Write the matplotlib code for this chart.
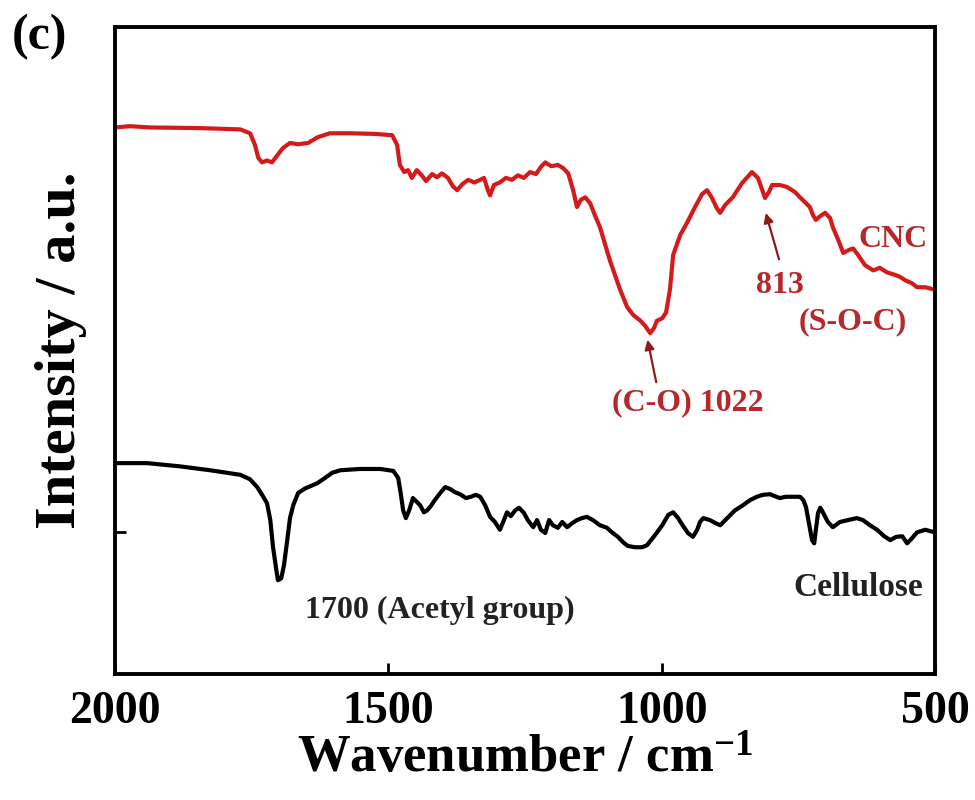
import matplotlib

matplotlib.use("Agg")
import matplotlib.pyplot as plt
import numpy as np

plt.rcParams["font.family"] = ["Liberation Serif", "DejaVu Serif"]
plt.rcParams["font.weight"] = "bold"
plt.rcParams["mathtext.fontset"] = "custom"
plt.rcParams["mathtext.rm"] = "Liberation Serif:bold"
plt.rcParams["mathtext.default"] = "rm"

# CNC spectrum (red), wavenumber in cm-1 and intensity in a.u.
cnc_wn = [2000, 1973, 1936, 1845, 1771, 1753, 1744, 1738, 1731, 1722, 1713, 1704, 1693, 1680,
          1665, 1647, 1629, 1607, 1570, 1524, 1493, 1484, 1479, 1471, 1464, 1457, 1448, 1438,
          1431, 1420, 1411, 1402, 1391, 1382, 1374, 1365, 1354, 1343, 1332, 1325, 1318, 1314,
          1307, 1296, 1285, 1274, 1263, 1252, 1241, 1230, 1221, 1213, 1202, 1190, 1180, 1171,
          1162, 1155, 1148, 1140, 1131, 1122, 1113, 1095, 1076, 1063, 1052, 1040, 1030, 1021,
          1014, 1009, 999, 992, 985, 979, 966, 954, 939, 926, 917, 908, 899, 893, 884, 870,
          853, 835, 824, 816, 811, 804, 798, 784, 771, 756, 747, 736, 729, 723, 718, 710, 701,
          692, 687, 677, 668, 659, 650, 641, 628, 613, 601, 588, 573, 564, 555, 542, 533, 518, 500]
cnc_int = [84.5, 84.7, 84.5, 84.4, 84.2, 83.6, 81.8, 79.8, 79.1, 79.4, 79.1, 80.1, 81.3, 82.1,
           81.9, 82.1, 83.0, 83.6, 83.6, 83.5, 83.3, 81.8, 78.7, 77.6, 77.9, 76.7, 77.9, 77.0,
           76.2, 77.3, 76.8, 77.4, 76.7, 75.4, 74.8, 75.7, 76.4, 76.0, 76.4, 76.7, 74.8, 74.0,
           75.6, 76.0, 76.7, 76.4, 77.1, 76.7, 77.6, 77.3, 78.4, 79.1, 78.5, 78.7, 78.2, 77.4,
           74.8, 72.2, 73.3, 73.7, 72.8, 70.9, 69.1, 64.0, 59.4, 56.7, 55.5, 54.7, 53.8, 52.7,
           53.5, 54.6, 55.0, 55.9, 59.4, 64.8, 67.9, 69.7, 72.2, 74.2, 74.8, 73.6, 72.0, 71.3,
           72.5, 73.7, 75.9, 77.6, 76.7, 74.8, 73.6, 74.5, 75.6, 75.6, 75.3, 74.5, 73.7, 72.8,
           72.2, 70.9, 70.2, 70.8, 71.3, 70.5, 69.1, 67.1, 65.1, 65.5, 65.8, 64.8, 63.2, 62.4,
           62.8, 62.1, 61.7, 61.4, 60.9, 60.4, 59.8, 59.8, 59.4]

# Cellulose spectrum (black)
cel_wn = [2000, 1941, 1881, 1826, 1771, 1753, 1740, 1731, 1722, 1716, 1711, 1705, 1702, 1696,
          1691, 1685, 1680, 1674, 1665, 1652, 1630, 1616, 1603, 1588, 1552, 1515, 1491, 1482,
          1477, 1473, 1468, 1462, 1455, 1448, 1442, 1435, 1429, 1422, 1415, 1405, 1396, 1387,
          1378, 1369, 1358, 1349, 1340, 1332, 1323, 1314, 1305, 1296, 1290, 1283, 1276, 1268,
          1261, 1252, 1245, 1235, 1228, 1221, 1213, 1206, 1199, 1190, 1182, 1173, 1164, 1155,
          1146, 1137, 1126, 1113, 1100, 1091, 1080, 1071, 1062, 1049, 1036, 1027, 1012, 999,
          988, 979, 970, 961, 952, 943, 935, 930, 924, 912, 901, 893, 880, 866, 853, 838, 826,
          815, 802, 793, 784, 773, 760, 747, 741, 736, 730, 725, 721, 718, 714, 710, 707, 701,
          696, 687, 674, 659, 643, 632, 619, 606, 593, 582, 571, 560, 551, 542, 533, 518, 500]
cel_int = [32.6, 32.6, 32.1, 31.5, 30.8, 30.1, 28.9, 27.7, 26.4, 23.8, 19.6, 16.1, 14.5, 14.8,
           16.8, 20.7, 24.1, 26.1, 28.0, 28.7, 29.5, 30.3, 31.1, 31.5, 31.7, 31.7, 31.4, 30.3,
           27.7, 25.3, 24.1, 25.3, 27.2, 26.6, 26.1, 25.0, 25.3, 26.0, 26.9, 28.0, 28.9, 28.6,
           28.1, 27.8, 27.2, 27.4, 27.7, 27.4, 26.1, 24.3, 23.5, 22.3, 23.5, 25.0, 24.4, 25.3,
           25.7, 24.9, 23.8, 22.7, 23.8, 22.3, 21.8, 23.8, 23.0, 22.6, 23.5, 22.7, 23.3, 23.8,
           24.1, 24.3, 23.8, 23.0, 22.6, 21.9, 21.2, 20.4, 19.8, 19.6, 19.6, 19.9, 21.5, 23.0,
           24.6, 25.0, 24.1, 22.9, 21.8, 21.2, 22.3, 23.5, 24.1, 23.8, 23.3, 23.0, 24.1, 25.3,
           26.0, 26.9, 27.4, 27.7, 27.8, 27.5, 27.2, 27.4, 27.4, 27.4, 26.9, 25.8, 23.0, 20.7,
           20.2, 22.3, 24.9, 25.7, 25.3, 24.3, 23.5, 22.7, 23.5, 23.8, 24.1, 23.8, 23.0, 22.3,
           21.3, 20.7, 21.2, 21.3, 20.2, 21.0, 21.9, 22.3, 21.9]

x_ticks = [2000, 1500, 1000, 500]

fig = plt.figure(figsize=(9.75, 8), dpi=100)
ax = fig.add_axes([0.118, 0.1575, 0.841, 0.8085])

ax.plot(cnc_wn, cnc_int, color="#d41a1a", lw=3.0)
ax.plot(cel_wn, cel_int, color="black", lw=3.0)

ax.set_xlim(2000, 500)
ax.set_ylim(0, 100)
ax.set_xticks(x_ticks)
ax.set_xticklabels([str(t) for t in x_ticks], fontsize=33, fontweight="bold")
ax.set_yticks([22])
ax.set_yticklabels([""])
ax.tick_params(direction="in", length=8, width=2, pad=12)
for spine in ax.spines.values():
    spine.set_linewidth(2.8)

ax.set_xlabel(r"Wavenumber / cm$^{-1}$", fontsize=38, fontweight="bold", labelpad=2)
ax.set_ylabel("Intensity / a.u.", fontsize=42, fontweight="bold", labelpad=8)

txt_red = "#b5282c"
arr_red = "#8e1b1b"
ax.text(577, 67.1, "CNC", color=txt_red, fontsize=23, ha="center", va="center")
ax.text(784, 60.1, "813", color=txt_red, fontsize=23, ha="center", va="center")
ax.text(650, 54.4, "(S-O-C)", color=txt_red, fontsize=23, ha="center", va="center")
ax.annotate("", xy=(811, 71.7), xytext=(784, 63.7),
            arrowprops=dict(arrowstyle="-|>", color=arr_red, lw=1.6, mutation_scale=14))
ax.text(952, 42.0, "(C-O) 1022", color=txt_red, fontsize=23, ha="center", va="center")
ax.annotate("", xy=(1027, 52.1), xytext=(1009, 44.7),
            arrowprops=dict(arrowstyle="-|>", color=arr_red, lw=1.6, mutation_scale=14))
ax.text(1406, 9.9, "1700 (Acetyl group)", color="#222222", fontsize=23, ha="center", va="center")
ax.text(641, 13.4, "Cellulose", color="#222222", fontsize=24, ha="center", va="center")

fig.text(0.041, 0.954, "(c)", fontsize=36, fontweight="bold", ha="center", va="center")

fig.savefig("out.png", dpi=100, facecolor="white")
plt.close(fig)
